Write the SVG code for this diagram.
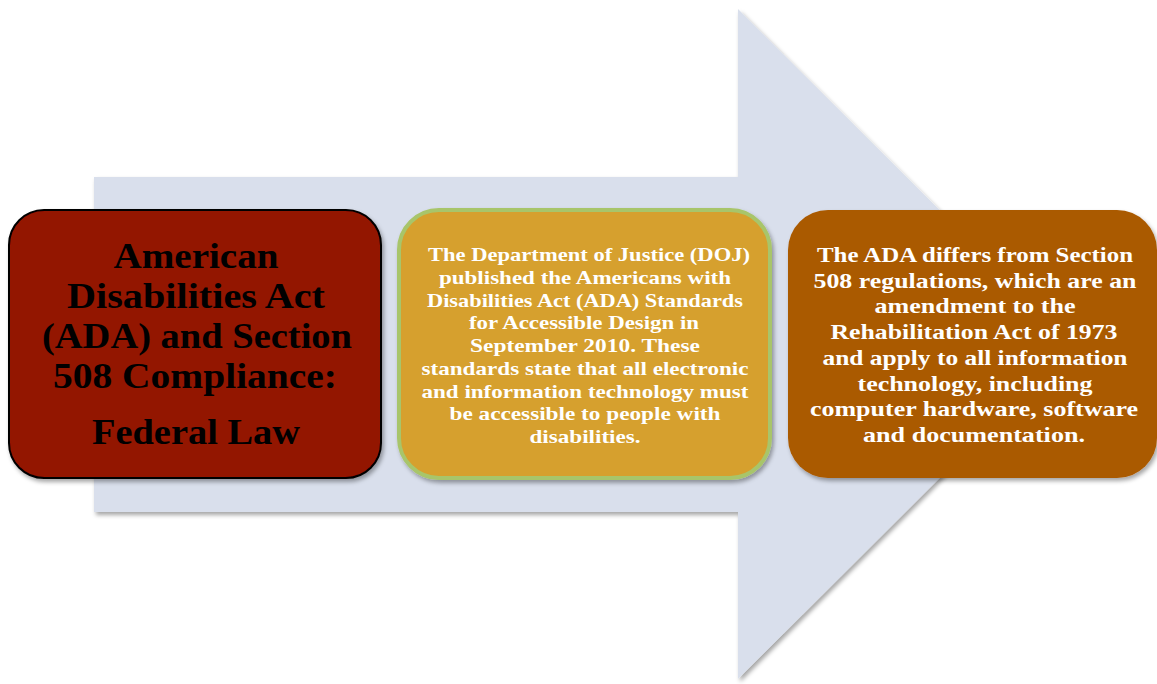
<svg xmlns="http://www.w3.org/2000/svg" width="1157" height="684" viewBox="0 0 1157 684">
<defs>
<filter id="sh" x="-10%" y="-10%" width="125%" height="125%">
<feDropShadow dx="2" dy="3" stdDeviation="2" flood-color="#000" flood-opacity="0.35"/>
</filter>
<style>
.t{font-family:"Liberation Serif","Times New Roman",serif;font-weight:bold;text-anchor:middle}
.l{font-size:35px;fill:#000}
.m{font-size:19.5px;fill:#fff}
.r{font-size:22px;fill:#fff}
</style>
</defs>
<rect width="1157" height="684" fill="#fff"/>
<g id="arrow">
<path d="M94,177 L738,177 L738,9 L1074,344 L738,679 L738,512 L94,512 Z" fill="#D9DFEC" filter="url(#sh)"/>
</g>
<g id="connectors"></g>
<g id="node-federal-law">
<rect x="9" y="210" width="372" height="268" rx="35" fill="#931200" stroke="#000" stroke-width="2" filter="url(#sh)"/>
<text class="t l" x="196" y="268" textLength="165" lengthAdjust="spacingAndGlyphs">American</text>
<text class="t l" x="196" y="308" textLength="258" lengthAdjust="spacingAndGlyphs">Disabilities Act</text>
<text class="t l" x="197" y="348" textLength="310" lengthAdjust="spacingAndGlyphs">(ADA) and Section</text>
<text class="t l" x="195" y="388" textLength="284" lengthAdjust="spacingAndGlyphs">508 Compliance:</text>
<text class="t l" x="196" y="444" textLength="208" lengthAdjust="spacingAndGlyphs">Federal Law</text>
</g>
<g id="node-doj">
<rect x="399" y="210" width="371" height="268" rx="40" fill="#D6A02D" stroke="#A8C56A" stroke-width="4" filter="url(#sh)"/>
<text class="t m" x="589" y="261" textLength="322" lengthAdjust="spacingAndGlyphs">The Department of Justice (DOJ)</text>
<text class="t m" x="585" y="283.75" textLength="292" lengthAdjust="spacingAndGlyphs">published the Americans with</text>
<text class="t m" x="585" y="306.5" textLength="316" lengthAdjust="spacingAndGlyphs">Disabilities Act (ADA) Standards</text>
<text class="t m" x="584" y="329.25" textLength="230" lengthAdjust="spacingAndGlyphs">for Accessible Design in</text>
<text class="t m" x="585" y="352" textLength="230" lengthAdjust="spacingAndGlyphs">September 2010. These</text>
<text class="t m" x="585" y="374.75" textLength="327" lengthAdjust="spacingAndGlyphs">standards state that all electronic</text>
<text class="t m" x="585" y="397.5" textLength="327" lengthAdjust="spacingAndGlyphs">and information technology must</text>
<text class="t m" x="585" y="420.25" textLength="271" lengthAdjust="spacingAndGlyphs">be accessible to people with</text>
<text class="t m" x="585" y="443" textLength="111" lengthAdjust="spacingAndGlyphs">disabilities.</text>
</g>
<g id="node-section-508">
<rect x="788" y="210" width="369" height="268" rx="40" fill="#AA5A00" filter="url(#sh)"/>
<text class="t r" x="975" y="262" textLength="316" lengthAdjust="spacingAndGlyphs">The ADA differs from Section</text>
<text class="t r" x="975" y="287.7" textLength="323" lengthAdjust="spacingAndGlyphs">508 regulations, which are an</text>
<text class="t r" x="975" y="313.4" textLength="201" lengthAdjust="spacingAndGlyphs">amendment to the</text>
<text class="t r" x="974" y="339.1" textLength="287" lengthAdjust="spacingAndGlyphs">Rehabilitation Act of 1973</text>
<text class="t r" x="975" y="364.8" textLength="305" lengthAdjust="spacingAndGlyphs">and apply to all information</text>
<text class="t r" x="975" y="390.5" textLength="235" lengthAdjust="spacingAndGlyphs">technology, including</text>
<text class="t r" x="974" y="416.2" textLength="328" lengthAdjust="spacingAndGlyphs">computer hardware, software</text>
<text class="t r" x="974" y="442" textLength="222" lengthAdjust="spacingAndGlyphs">and documentation.</text>
</g>
</svg>
